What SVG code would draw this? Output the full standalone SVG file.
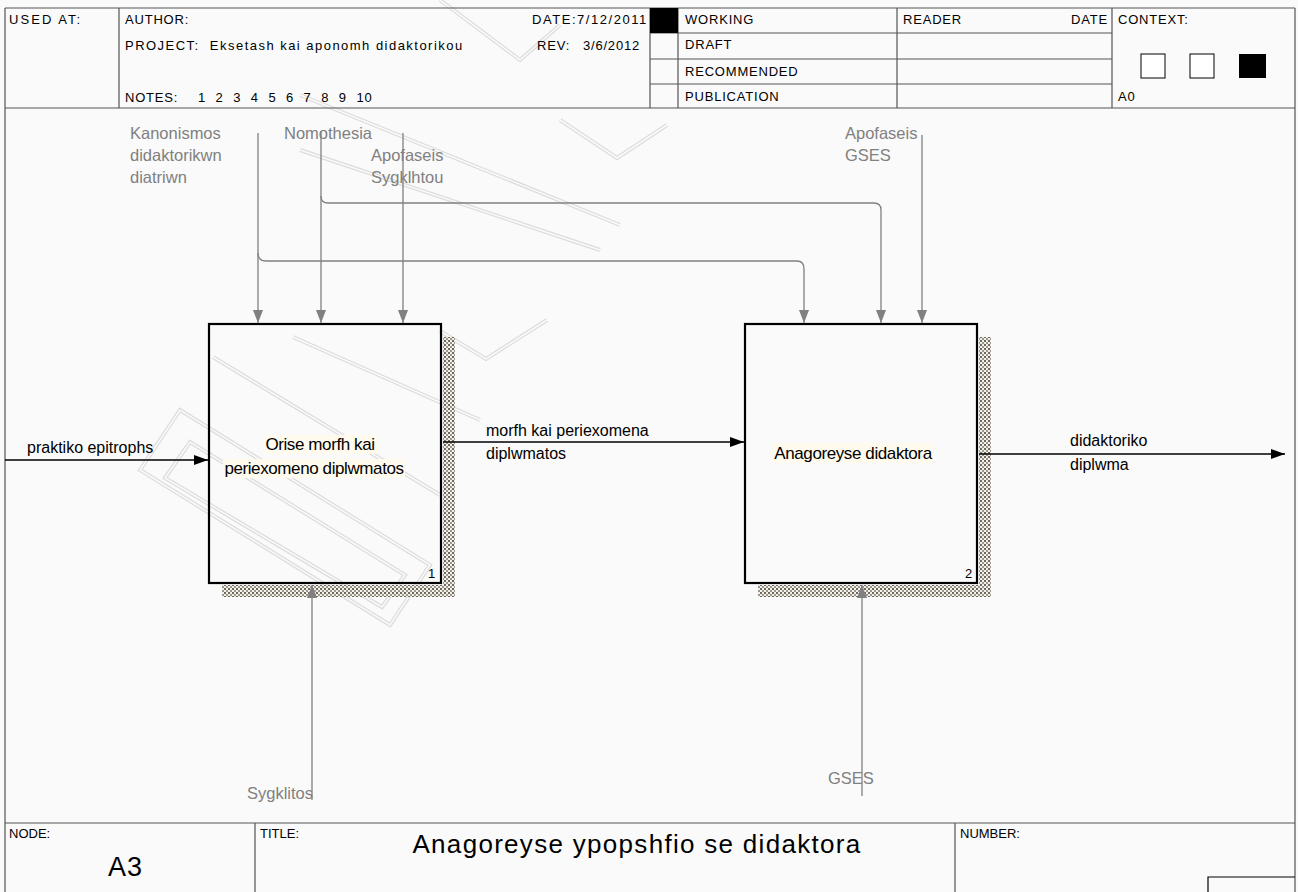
<svg xmlns="http://www.w3.org/2000/svg" width="1298" height="892" viewBox="0 0 1298 892">
  <defs>
    <pattern id="hatch" width="4" height="4" patternUnits="userSpaceOnUse">
      <rect width="4" height="4" fill="#f2f0e8"/>
      <rect x="0" y="0" width="2" height="2" fill="#6e6a60"/>
      <rect x="2" y="2" width="2" height="2" fill="#9a968c"/>
    </pattern>
    <marker id="arrowBlack" markerWidth="14" markerHeight="10" refX="14" refY="5" orient="auto" markerUnits="userSpaceOnUse">
      <path d="M0,0 L14,5 L0,10 Z" fill="#000"/>
    </marker>
    <marker id="arrowGrey" markerWidth="13" markerHeight="10" refX="13" refY="5" orient="auto" markerUnits="userSpaceOnUse">
      <path d="M0,0 L13,5 L0,10 Z" fill="#808080"/>
    </marker>
  </defs>
  <style>
    .frame { fill: none; stroke: #555; stroke-width: 1.2; }
    .hdr { font-family: "Liberation Sans", Arial, sans-serif; font-size: 13px; letter-spacing: 0.8px; fill: #000; }
    .ftr { font-family: "Liberation Sans", Arial, sans-serif; font-size: 13px; fill: #000; }
    .lbl { font-family: "Liberation Sans", Arial, sans-serif; font-size: 16px; fill: #000; }
    .glbl { font-family: "Liberation Sans", Arial, sans-serif; font-size: 16.5px; fill: #808080; }
    .box { fill: none; stroke: #000; stroke-width: 2.2; }
    .boxlbl { font-family: "Liberation Sans", Arial, sans-serif; font-size: 17px; fill: #000; letter-spacing: -0.4px; text-anchor: middle; }
    .num { font-family: "Liberation Sans", Arial, sans-serif; font-size: 13px; fill: #000; }
    .cream { fill: #fffaee; }
    .ctl { fill: none; stroke: #808080; stroke-width: 1.3; }
    .flow { fill: none; stroke: #000; stroke-width: 1.3; }
    .wm-o { fill: none; stroke: #dcdcdc; stroke-width: 4; stroke-linejoin: miter; }
    .wm-i { fill: none; stroke: #fafafa; stroke-width: 1.6; stroke-linejoin: miter; }
  </style>

  <!-- page background -->
  <rect width="1298" height="892" fill="#fafafa"/>

  <!-- faint background emblem -->
  <g id="emblem">
    <path class="wm-o" d="M440,0 L520,60 L560,25 M300,95 L620,225 M300,150 L600,250 M560,120 L617,158 L667,125 M440,331 L486,359 L547,320 M213,357 L440,495 M293,337 L480,420 M140,470 L180,410 L430,565 L390,625 Z M165,478 L190,442 L405,575 L382,607 Z"/>
    <path class="wm-i" d="M440,0 L520,60 L560,25 M300,95 L620,225 M300,150 L600,250 M560,120 L617,158 L667,125 M440,331 L486,359 L547,320 M213,357 L440,495 M293,337 L480,420 M140,470 L180,410 L430,565 L390,625 Z M165,478 L190,442 L405,575 L382,607 Z"/>
  </g>

  <!-- header block -->
  <g id="header">
    <path class="frame" d="M5,8 H1295 M5,8 V892 M1295,8 V892 M5,108 H1295 M119,8 V108 M650,8 V108 M678,8 V108 M897,8 V108 M1112,8 V108 M650,33 H1112 M650,59 H1112 M650,84 H1112"/>
    <rect x="650" y="8" width="28" height="25" fill="#000"/>
    <text class="hdr" x="9" y="24" textLength="72">USED AT:</text>
    <text class="hdr" x="125" y="24">AUTHOR:</text>
    <text class="hdr" x="125" y="50" xml:space="preserve" textLength="338">PROJECT:  Eksetash kai aponomh didaktorikou</text>
    <text class="hdr" x="125" y="102">NOTES:<tspan x="198">1</tspan><tspan x="215.6">2</tspan><tspan x="233.2">3</tspan><tspan x="250.8">4</tspan><tspan x="268.4">5</tspan><tspan x="286">6</tspan><tspan x="303.6">7</tspan><tspan x="321.2">8</tspan><tspan x="338.8">9</tspan><tspan x="356.4">10</tspan></text>
    <text class="hdr" x="532" y="24" textLength="115">DATE:7/12/2011</text>
    <text class="hdr" x="537" y="50">REV:</text>
    <text class="hdr" x="640" y="50" text-anchor="end" letter-spacing="0.4">3/6/2012</text>
    <text class="hdr" x="685" y="24">WORKING</text>
    <text class="hdr" x="685" y="49">DRAFT</text>
    <text class="hdr" x="685" y="76">RECOMMENDED</text>
    <text class="hdr" x="685" y="101">PUBLICATION</text>
    <text class="hdr" x="903" y="24">READER</text>
    <text class="hdr" x="1108" y="24" text-anchor="end">DATE</text>
    <text class="hdr" x="1118" y="24">CONTEXT:</text>
    <rect x="1141" y="54" width="24" height="24" fill="#fff" stroke="#000" stroke-width="1"/>
    <rect x="1190" y="54" width="24" height="24" fill="#fff" stroke="#000" stroke-width="1"/>
    <rect x="1239" y="54" width="27" height="24" fill="#000"/>
    <text class="hdr" x="1118" y="101">A0</text>
  </g>

  <!-- footer block -->
  <g id="footer">
    <path class="frame" d="M5,823 H1295 M255,823 V892 M955,823 V892"/>
    <path d="M1208,892 V877 H1295" fill="none" stroke="#000" stroke-width="1.2"/>
    <text class="ftr" x="9" y="838">NODE:</text>
    <text class="ftr" x="260" y="838">TITLE:</text>
    <text class="ftr" x="960" y="838">NUMBER:</text>
    <text x="108" y="876" font-family="Liberation Sans, Arial, sans-serif" font-size="27" letter-spacing="1">A3</text>
    <text x="637" y="853" font-family="Liberation Sans, Arial, sans-serif" font-size="26" letter-spacing="1.3" text-anchor="middle">Anagoreyse ypopshfio se didaktora</text>
  </g>

  <!-- activity 1 -->
  <g id="node-1">
    <rect x="443" y="337" width="12" height="260" fill="url(#hatch)"/>
    <rect x="222" y="585" width="233" height="12" fill="url(#hatch)"/>
    <rect class="box" x="209" y="324" width="232" height="259"/>
    <rect class="cream" x="263" y="435" width="114" height="19"/>
    <rect class="cream" x="223" y="459" width="182" height="19"/>
    <text class="boxlbl" x="320" y="450">Orise morfh kai</text>
    <text class="boxlbl" x="314" y="474">periexomeno diplwmatos</text>
    <text class="num" x="428" y="578">1</text>
  </g>

  <!-- activity 2 -->
  <g id="node-2">
    <rect x="979" y="337" width="12" height="260" fill="url(#hatch)"/>
    <rect x="758" y="585" width="233" height="12" fill="url(#hatch)"/>
    <rect class="box" x="745" y="324" width="232" height="259"/>
    <rect class="cream" x="772" y="443" width="162" height="20"/>
    <text class="boxlbl" x="853" y="459">Anagoreyse didaktora</text>
    <text class="num" x="965" y="578">2</text>
  </g>

  <!-- arrows -->
  <g id="connectors">
    <!-- controls -->
    <path class="ctl" d="M258,133 V323" marker-end="url(#arrowGrey)"/>
    <path class="ctl" d="M258,253 Q258,261 266,261 H797 Q804,261 804,269 V323" marker-end="url(#arrowGrey)"/>
    <path class="ctl" d="M321,131 V323" marker-end="url(#arrowGrey)"/>
    <path class="ctl" d="M321,196 Q321,203 328,203 H874 Q881,203 881,210 V323" marker-end="url(#arrowGrey)"/>
    <path class="ctl" d="M403,133 V323" marker-end="url(#arrowGrey)"/>
    <path class="ctl" d="M922,135 V323" marker-end="url(#arrowGrey)"/>
    <!-- mechanisms -->
    <path class="ctl" d="M312,800 V585" marker-end="url(#arrowGrey)"/>
    <path class="ctl" d="M862,796 V585" marker-end="url(#arrowGrey)"/>
    <!-- flows -->
    <path class="flow" d="M5,460 H208" marker-end="url(#arrowBlack)"/>
    <path class="flow" d="M443,442 H744" marker-end="url(#arrowBlack)"/>
    <path class="flow" d="M979,454 H1285" marker-end="url(#arrowBlack)"/>
  </g>

  <!-- arrow labels -->
  <g id="labels">
    <text class="glbl" x="130" y="139">Kanonismos</text>
    <text class="glbl" x="130" y="161">didaktorikwn</text>
    <text class="glbl" x="130" y="183">diatriwn</text>
    <text class="glbl" x="284" y="139">Nomothesia</text>
    <text class="glbl" x="371" y="161">Apofaseis</text>
    <text class="glbl" x="371" y="183">Sygklhtou</text>
    <text class="glbl" x="845" y="139">Apofaseis</text>
    <text class="glbl" x="845" y="161">GSES</text>
    <text class="glbl" x="313" y="799" text-anchor="end">Sygklitos</text>
    <text class="glbl" x="828" y="784">GSES</text>
    <text class="lbl" x="27" y="453">praktiko epitrophs</text>
    <text class="lbl" x="486" y="436">morfh kai periexomena</text>
    <text class="lbl" x="486" y="459">diplwmatos</text>
    <text class="lbl" x="1070" y="446">didaktoriko</text>
    <text class="lbl" x="1070" y="470">diplwma</text>
  </g>
</svg>
